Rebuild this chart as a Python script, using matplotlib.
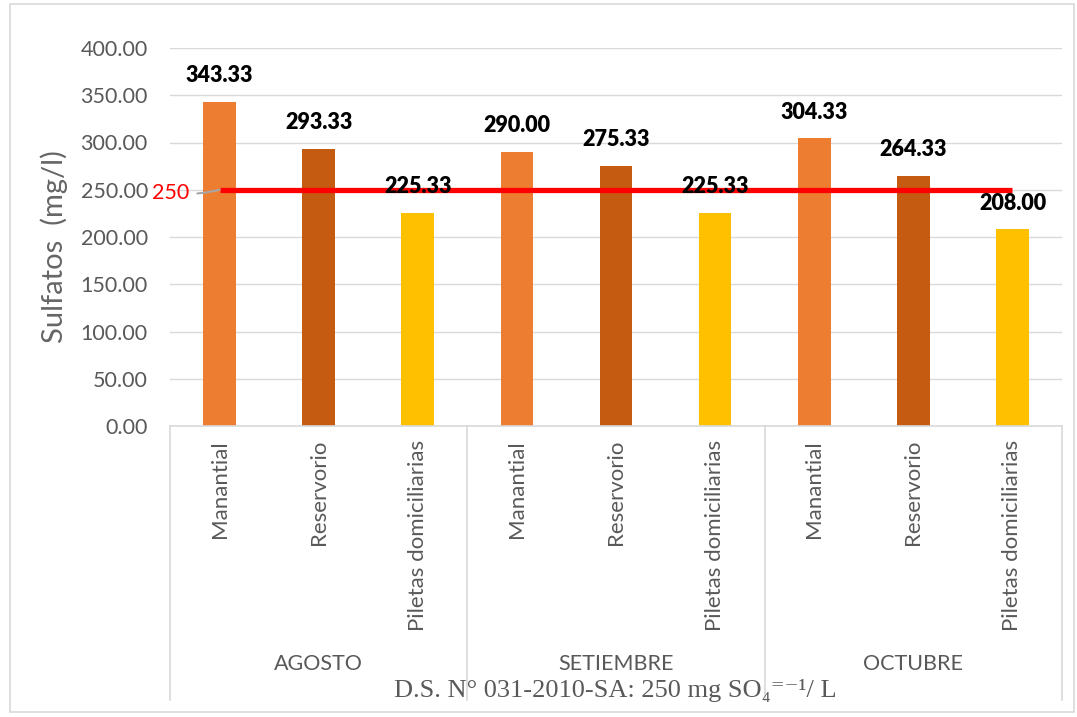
import matplotlib
matplotlib.use("Agg")
import matplotlib.pyplot as plt
from matplotlib.patches import Rectangle
from matplotlib.lines import Line2D
import matplotlib.transforms as mtransforms

# Data
months = ["AGOSTO", "SETIEMBRE", "OCTUBRE"]
sources = ["Manantial", "Reservorio", "Piletas domiciliarias"]
agosto = [343.33, 293.33, 225.33]
setiembre = [290.00, 275.33, 225.33]
octubre = [304.33, 264.33, 208.00]
limit_value = 250
y_ticks = [0, 50, 100, 150, 200, 250, 300, 350, 400]

colors = ["#ED7D31", "#C55A11", "#FFC000"]
gray_txt = "#595959"
grid_col = "#D9D9D9"

plt.rcParams["font.family"] = ["Lato", "DejaVu Sans"]

fig = plt.figure(figsize=(10.77, 7.17), dpi=100)
ax = fig.add_axes([170 / 1077, 1 - 426 / 717, 892 / 1077, 378 / 717])

values = [agosto, setiembre, octubre]
labels = []
for g, vals in enumerate(values):
    for i, v in enumerate(vals):
        x = g * 3 + i
        ax.bar(x, v, width=0.33, color=colors[i], zorder=2)
        ax.annotate(f"{v:.2f}", (x, v), xytext=(0, 19), textcoords="offset points",
                    ha="center", va="center", fontsize=15.5, fontweight="heavy",
                    color="black", zorder=5)
        labels.append(sources[i])

n = len(labels)
ax.set_xlim(-0.5, n - 0.5)
ax.set_ylim(0, 400)
ax.set_yticks(y_ticks)
ax.set_yticklabels([f"{t:.2f}" for t in y_ticks])
ax.set_xticks(range(n))
ax.set_xticklabels(labels, rotation=90, va="top", ha="center")
ax.tick_params(axis="x", length=0, pad=10, labelsize=16, labelcolor=gray_txt)
ax.tick_params(axis="y", length=0, pad=16, labelsize=15.5, labelcolor=gray_txt)
ax.grid(axis="y", color=grid_col, lw=1, zorder=0)
ax.set_axisbelow(True)
for s in ["top", "right", "left"]:
    ax.spines[s].set_visible(False)
ax.spines["bottom"].set_color(grid_col)
ax.spines["bottom"].set_linewidth(1.2)

ax.set_ylabel("Sulfatos  (mg/l)", fontsize=21, color="#666666")
ax.yaxis.set_label_coords(-0.114, 0.474)

# Regulatory limit
ax.plot([0, n - 1], [limit_value, limit_value], color="#FF0000", lw=3.8, zorder=3,
        solid_capstyle="butt")
ax.annotate(str(limit_value), xy=(0, limit_value), xytext=(-22, -2),
            textcoords="offset points", ha="right", va="center", fontsize=15.5,
            color="#FF0000", zorder=6,
            arrowprops=dict(arrowstyle="-", color="#A6A6A6", lw=1.5,
                            shrinkA=4, shrinkB=0,
                            connectionstyle="arc3,rad=0.1"))

# Month grouping below the category axis
trans = mtransforms.blended_transform_factory(ax.transData, ax.transAxes)
for b in range(len(months) + 1):
    xb = b * 3 - 0.5
    ax.add_line(Line2D([xb, xb], [0, -0.725], transform=trans, color=grid_col,
                       lw=1.2, clip_on=False))
for g, m in enumerate(months):
    ax.text(g * 3 + 1, -0.63, m, transform=trans, ha="center", va="center",
            fontsize=15.5, color=gray_txt)

fig.text(0.571, 0.037, "D.S. N° 031-2010-SA: 250 mg SO\u2084\u207c\u207b\u00b9/ L",
         ha="center", va="center", fontsize=19, color=gray_txt,
         family=["Liberation Serif", "DejaVu Serif"])

fig.patches.append(Rectangle((0.009, 0.007), 0.988, 0.987, transform=fig.transFigure,
                             fill=False, edgecolor=grid_col, lw=1.2))

fig.savefig("out.png", dpi=100)
